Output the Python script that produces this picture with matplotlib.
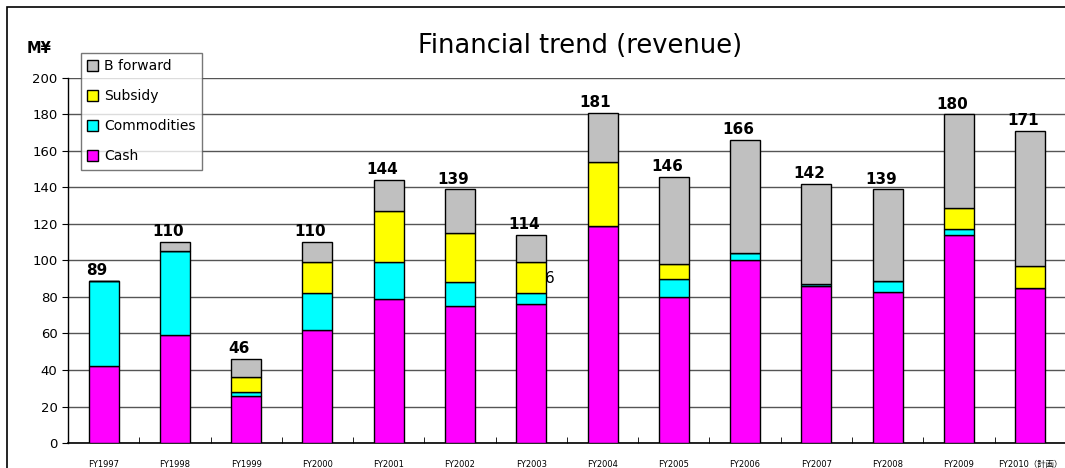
import numpy as np
import matplotlib.pyplot as plt
from matplotlib.patches import Rectangle

plt.rcParams['font.family'] = ['DejaVu Sans', 'Noto Sans CJK JP']

years = ['FY1997', 'FY1998', 'FY1999', 'FY2000', 'FY2001', 'FY2002', 'FY2003',
         'FY2004', 'FY2005', 'FY2006', 'FY2007', 'FY2008', 'FY2009', 'FY2010（計画）']
cash = [42, 59, 26, 62, 79, 75, 76, 119, 80, 100, 86, 83, 114, 85]
commodities = [47, 46, 2, 20, 20, 13, 6, 0, 10, 4, 1, 6, 3, 0]
subsidy = [0, 0, 8, 17, 28, 27, 17, 35, 8, 0, 0, 0, 12, 12]
totals = [89, 110, 46, 110, 144, 139, 114, 181, 146, 166, 142, 139, 180, 171]

cash = np.array(cash)
commodities = np.array(commodities)
subsidy = np.array(subsidy)
totals = np.array(totals)
b_forward = totals - cash - commodities - subsidy

fig = plt.figure(figsize=(10.65, 4.68), dpi=100)
ax = fig.add_axes([0.0638, 0.0534, 0.937, 0.78])

x = np.arange(len(years))
w = 0.42
kw = dict(width=w, edgecolor='black', linewidth=1, zorder=3)

ax.bar(x, cash, color='#FF00FF', label='Cash', **kw)
ax.bar(x, commodities, bottom=cash, color='#00FFFF', label='Commodities', **kw)
ax.bar(x, subsidy, bottom=cash + commodities, color='#FFFF00', label='Subsidy', **kw)
ax.bar(x, b_forward, bottom=cash + commodities + subsidy, color='#C0C0C0',
       label='B forward', **kw)

# totals above each bar
for xi, t in zip(x, totals):
    ax.annotate(str(t), (xi, t), xytext=(-5, 2), textcoords='offset points',
                ha='center', va='bottom', fontsize=11, fontweight='bold')

# stray label in the original
ax.text(6.26, 90, '6', fontsize=11, ha='center', va='center')

ax.set_xlim(-0.5, len(years) - 0.5)
ax.set_ylim(0, 200)
ax.set_yticks(range(0, 201, 20))
ax.yaxis.grid(True, color='#555555', linewidth=1, zorder=0)
ax.set_axisbelow(True)

ax.set_xticks(x)
ax.set_xticklabels(years, fontsize=6)
ax.set_xticks(np.arange(0.5, len(years) - 0.5, 1), minor=True)
ax.tick_params(axis='x', which='major', length=0, pad=12)
ax.tick_params(axis='x', which='minor', direction='in', length=4)
ax.tick_params(axis='y', labelsize=9.5, length=4, direction='out')

for s in ['top', 'right']:
    ax.spines[s].set_visible(False)
ax.spines['left'].set_linewidth(1)
ax.spines['bottom'].set_linewidth(1.2)

handles, labels = ax.get_legend_handles_labels()
leg = ax.legend(handles[::-1], labels[::-1], loc='upper left',
                bbox_to_anchor=(0.006, 1.087), fontsize=10, frameon=True,
                fancybox=False, edgecolor='#555555', handlelength=0.8,
                handleheight=0.8, labelspacing=1.15, borderpad=0.45,
                handletextpad=0.4)
leg.get_frame().set_linewidth(1)

fig.text(0.545, 0.902, 'Financial trend (revenue)', fontsize=18.5,
         ha='center', va='center')
fig.text(0.037, 0.897, 'M¥', fontsize=10.5, fontweight='bold',
         ha='center', va='center')

# outer chart frame
fig.patches.append(Rectangle((7 / 1065, -0.05), 1.1, 1.05 - 7 / 468,
                             transform=fig.transFigure, fill=False,
                             edgecolor='black', linewidth=1.2))

fig.savefig('out.png', dpi=100)
